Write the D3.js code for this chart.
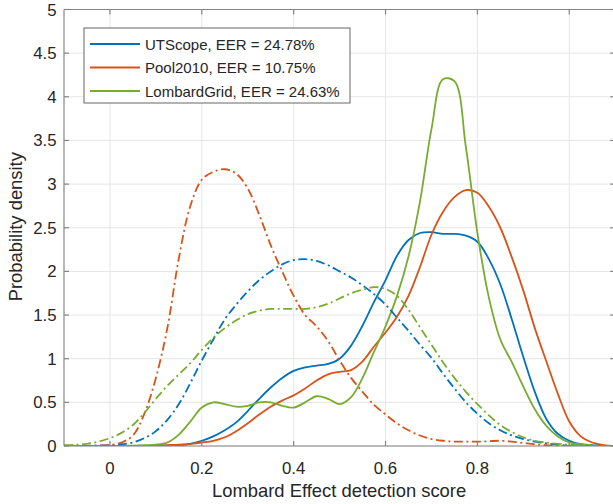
<!DOCTYPE html>
<html><head><meta charset="utf-8">
<script src="https://cdn.jsdelivr.net/npm/d3@7/dist/d3.min.js"></script>
<style>
html,body{margin:0;padding:0;background:#fff;}
svg{display:block;font-family:"Liberation Sans",Arial,Helvetica,sans-serif;}
</style></head>
<body><svg id="chart" width="613" height="504"></svg>
<script>
// Sample positions (detection score)
const scoreGrid = [-0.1,-0.075,-0.05,-0.025,0,0.025,0.05,0.075,0.1,0.125,0.15,0.175,0.2,0.225,0.25,0.275,0.3,0.325,0.35,0.375,0.4,0.425,0.45,0.475,0.5,0.525,0.55,0.575,0.6,0.625,0.65,0.675,0.7,0.725,0.75,0.775,0.8,0.825,0.85,0.875,0.9,0.925,0.95,0.975,1.0,1.025,1.05,1.075,1.1];

// Solid curves
const utscopeSolid = [0,0,0,0,0,0,0,0,0.002,0.005,0.01,0.025,0.06,0.11,0.18,0.27,0.4,0.54,0.67,0.78,0.86,0.9,0.92,0.94,1.0,1.15,1.38,1.65,1.9,2.18,2.36,2.44,2.45,2.43,2.43,2.41,2.34,2.14,1.85,1.45,1.02,0.62,0.31,0.14,0.06,0.02,0.01,0,0];
const pool2010Solid = [0,0,0,0,0,0,0,0,0.005,0.01,0.015,0.025,0.04,0.06,0.1,0.17,0.26,0.36,0.45,0.52,0.58,0.66,0.75,0.82,0.85,0.87,0.97,1.14,1.3,1.48,1.72,2.05,2.42,2.68,2.85,2.93,2.9,2.74,2.5,2.16,1.78,1.35,0.97,0.6,0.28,0.11,0.04,0.01,0];
const lombardSolid = [0,0,0,0,0,0,0.005,0.01,0.015,0.04,0.13,0.28,0.44,0.5,0.48,0.45,0.46,0.5,0.5,0.46,0.44,0.5,0.57,0.54,0.48,0.56,0.78,1.08,1.37,1.72,2.17,2.8,3.63,4.2,4.18,3.42,2.44,1.7,1.22,0.96,0.68,0.42,0.23,0.11,0.04,0.02,0.005,0,0];

// Dash-dot curves
const utscopeDash = [0,0,0.002,0.005,0.01,0.02,0.04,0.09,0.17,0.3,0.48,0.72,0.98,1.22,1.45,1.62,1.77,1.9,2.0,2.08,2.13,2.14,2.12,2.07,2.0,1.93,1.84,1.74,1.62,1.47,1.32,1.16,1.01,0.83,0.66,0.5,0.37,0.26,0.18,0.12,0.08,0.05,0.03,0.015,0.005,0,0,0,0];
const pool2010Dash = [0,0,0.002,0.005,0.01,0.04,0.12,0.37,0.78,1.35,2.15,2.75,3.05,3.14,3.17,3.12,2.95,2.65,2.3,2.0,1.72,1.5,1.37,1.2,0.98,0.78,0.62,0.47,0.36,0.26,0.18,0.12,0.08,0.06,0.05,0.05,0.05,0.055,0.06,0.05,0.035,0.02,0.01,0.005,0,0,0,0,0];
const lombardDash = [0.01,0.015,0.025,0.05,0.09,0.15,0.24,0.38,0.54,0.69,0.82,0.95,1.1,1.24,1.35,1.44,1.51,1.55,1.57,1.57,1.57,1.57,1.59,1.63,1.69,1.75,1.79,1.82,1.8,1.72,1.56,1.36,1.16,0.96,0.78,0.62,0.48,0.35,0.24,0.16,0.1,0.06,0.04,0.025,0.015,0.01,0.005,0,0];

const legendLabels = ["UTScope, EER = 24.78%","Pool2010, EER = 10.75%","LombardGrid, EER = 24.63%"];
const xTicks = [0,0.2,0.4,0.6,0.8,1];
const yTicks = [0,0.5,1,1.5,2,2.5,3,3.5,4,4.5,5];
const colors = ["#0072BD","#D95319","#77AC30"];

const svg = d3.select("#chart");
const x = d3.scaleLinear().domain([-0.1,1.1]).range([64,615.2]);
const y = d3.scaleLinear().domain([0,5]).range([446,9.5]);
const L = 64, R = 615.2, T = 9.5, B = 446;

// grid
const g = svg.append("g");
g.selectAll(".gx").data(xTicks).enter().append("line")
  .attr("x1",d=>x(d)).attr("x2",d=>x(d)).attr("y1",T).attr("y2",B)
  .attr("stroke","#e6e6e6").attr("stroke-width",1);
g.selectAll(".gy").data(yTicks).enter().append("line")
  .attr("x1",L).attr("x2",R).attr("y1",d=>y(d)).attr("y2",d=>y(d))
  .attr("stroke","#e6e6e6").attr("stroke-width",1);

// clip
svg.append("clipPath").attr("id","clip").append("rect")
  .attr("x",L).attr("y",T).attr("width",R-L).attr("height",B-T);

const line = d3.line().x(d=>x(d[0])).y(d=>y(d[1])).curve(d3.curveCatmullRom.alpha(0.5));
const series = [
  {v:utscopeSolid,c:0,dash:null},
  {v:pool2010Solid,c:1,dash:null},
  {v:lombardSolid,c:2,dash:null},
  {v:utscopeDash,c:0,dash:"9,3.5,2,3.5"},
  {v:pool2010Dash,c:1,dash:"9,3.5,2,3.5"},
  {v:lombardDash,c:2,dash:"9,3.5,2,3.5"}
];
const pg = svg.append("g").attr("clip-path","url(#clip)");
series.forEach(s=>{
  pg.append("path").datum(scoreGrid.map((xv,i)=>[xv,s.v[i]]))
    .attr("d",line).attr("fill","none").attr("stroke",colors[s.c])
    .attr("stroke-width",1.8).attr("stroke-dasharray",s.dash);
});

// axes box
const axCol = "#858585";
const ax = svg.append("g").attr("stroke",axCol).attr("stroke-width",1.2);
ax.append("line").attr("x1",L).attr("x2",R).attr("y1",B).attr("y2",B);
ax.append("line").attr("x1",L).attr("x2",R).attr("y1",T).attr("y2",T);
ax.append("line").attr("x1",L).attr("x2",L).attr("y1",T).attr("y2",B);
ax.append("line").attr("x1",R).attr("x2",R).attr("y1",T).attr("y2",B);
xTicks.forEach(t=>{
  ax.append("line").attr("x1",x(t)).attr("x2",x(t)).attr("y1",B).attr("y2",B-5);
  ax.append("line").attr("x1",x(t)).attr("x2",x(t)).attr("y1",T).attr("y2",T+5);
});
yTicks.forEach(t=>{
  ax.append("line").attr("x1",L).attr("x2",L+5).attr("y1",y(t)).attr("y2",y(t));
  ax.append("line").attr("x1",R).attr("x2",R-5).attr("y1",y(t)).attr("y2",y(t));
});

// tick labels
const txtCol = "#262626";
svg.selectAll(".xt").data(xTicks).enter().append("text")
  .attr("x",d=>x(d)).attr("y",473.5).attr("text-anchor","middle")
  .attr("font-size",16.8).attr("fill",txtCol).text(d=>d3.format("")(d));
svg.selectAll(".yt").data(yTicks).enter().append("text")
  .attr("x",56.5).attr("y",d=>y(d)+6).attr("text-anchor","end")
  .attr("font-size",16.8).attr("fill",txtCol).text(d=>d3.format("")(d));

// axis labels
svg.append("text").attr("x",(L+R)/2 - 0.5).attr("y",497).attr("text-anchor","middle")
  .attr("font-size",18.4).attr("fill",txtCol).text("Lombard Effect detection score");
svg.append("text").attr("transform","translate(22,226.7) rotate(-90)")
  .attr("text-anchor","middle").attr("font-size",18.4).attr("fill",txtCol).text("Probability density");

// legend
const lg = svg.append("g");
lg.append("rect").attr("x",84).attr("y",28).attr("width",266).attr("height",75)
  .attr("fill","#fff").attr("stroke","#666").attr("stroke-width",1);
legendLabels.forEach((lab,i)=>{
  const yy = 44 + i*23.5;
  lg.append("line").attr("x1",90).attr("x2",140).attr("y1",yy).attr("y2",yy)
    .attr("stroke",colors[i]).attr("stroke-width",1.8);
  lg.append("text").attr("x",145).attr("y",yy+5.5).attr("font-size",15)
    .attr("fill",txtCol).text(lab);
});
</script></body></html>
